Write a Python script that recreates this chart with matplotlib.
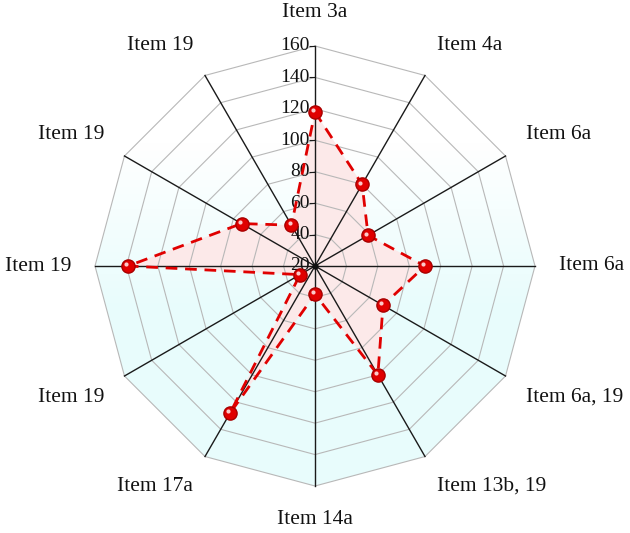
import numpy as np
import matplotlib.pyplot as plt
from matplotlib.patches import Polygon
from matplotlib.transforms import offset_copy

# --- data ---
categories = ['Item 3a', 'Item 4a', 'Item 6a', 'Item 6a', 'Item 6a, 19',
              'Item 13b, 19', 'Item 14a', 'Item 17a', 'Item 19', 'Item 19',
              'Item 19', 'Item 19']
values = [118, 80, 59, 90, 70, 100, 38, 128, 31, 139, 74, 50]
r_ticks = [20, 40, 60, 80, 100, 120, 140, 160]

n = len(categories)
angles = np.linspace(0, 2 * np.pi, n, endpoint=False)
r_min, r_max = r_ticks[0], r_ticks[-1]

serif = ['Liberation Serif', 'DejaVu Serif']

fig = plt.figure(figsize=(6.3, 5.33), dpi=100)
rect = [95 / 630, 47 / 533, 440 / 630, 440 / 533]

# --- background gradient clipped to the outer polygon ---
bg = fig.add_axes(rect)
bg.set_xlim(-1, 1)
bg.set_ylim(-1, 1)
bg.axis('off')
yf = np.linspace(0, 1, 256)  # 0 at top
t = np.clip((yf - 0.22) / 0.38, 0, 1)[:, None]
top = np.array([1.0, 1.0, 1.0])
bottom = np.array([0.91, 0.99, 0.99])
img = (top * (1 - t) + bottom * t)[:, None, :]
im = bg.imshow(img, extent=(-1, 1, -1, 1), aspect='auto', origin='upper')
poly = Polygon(np.column_stack([np.sin(angles), np.cos(angles)]), closed=True,
               transform=bg.transData, facecolor='none', edgecolor='none')
bg.add_patch(poly)
im.set_clip_path(poly)

# --- radar axes ---
ax = fig.add_axes(rect, projection='polar')
ax.patch.set_visible(False)
ax.set_theta_zero_location('N')
ax.set_theta_direction(-1)
ax.set_ylim(r_min, r_max)
ax.grid(False)
ax.spines['polar'].set_visible(False)
ax.set_xticks([])
ax.set_yticks([])

closed = np.append(angles, angles[0])

# filled area under the grid
ax.fill(closed, values + values[:1], color='#fce9e9', lw=0, zorder=1)

for r in r_ticks[1:]:
    ax.plot(closed, [r] * (n + 1), color='#b8b8b8', lw=0.8, zorder=2, clip_on=False)
for a in angles:
    ax.plot([a, a], [r_min, r_max], color='#1a1a1a', lw=1.0, zorder=3, clip_on=False)

# radial tick marks and labels along the top spoke
ax.plot([0] * len(r_ticks), r_ticks, ls='none', marker=0, ms=4, mew=0.8,
        color='#1a1a1a', zorder=3, clip_on=False)
lab_tr = offset_copy(ax.transData, fig=fig, x=-5, y=0, units='dots')
for r in r_ticks:
    ax.text(0, r, str(r), transform=lab_tr, ha='right', va='center',
            fontsize=14, family=serif, color='#111111', zorder=3)

# category labels
for a, lab in zip(angles, categories):
    s, c = np.sin(a), np.cos(a)
    ha = 'left' if s > 0.01 else ('right' if s < -0.01 else 'center')
    va = 'bottom' if c > 0.01 else ('top' if c < -0.01 else 'center')
    ax.text(a, 175, lab, ha=ha, va=va, fontsize=15.5, family=serif,
            color='#111111', clip_on=False)

# series
ax.plot(closed, values + values[:1], color='#e00000', lw=2.0,
        ls=(0, (4.2, 2.8)), zorder=4)
ax.plot(angles, values, ls='none', marker='o', ms=9.5, mfc='#e00000',
        mec='#a80000', mew=1.0, zorder=5)
hl_tr = offset_copy(ax.transData, fig=fig, x=-1.8, y=1.8, units='dots')
ax.plot(angles, values, ls='none', marker='o', ms=3.0, mfc='#ffe0e0',
        mec='none', alpha=0.9, transform=hl_tr, zorder=6)

# centre dot
ax.plot([0], [r_min], marker='o', ms=3.5, color='#111111', zorder=6)

fig.savefig('out.png', dpi=100)
